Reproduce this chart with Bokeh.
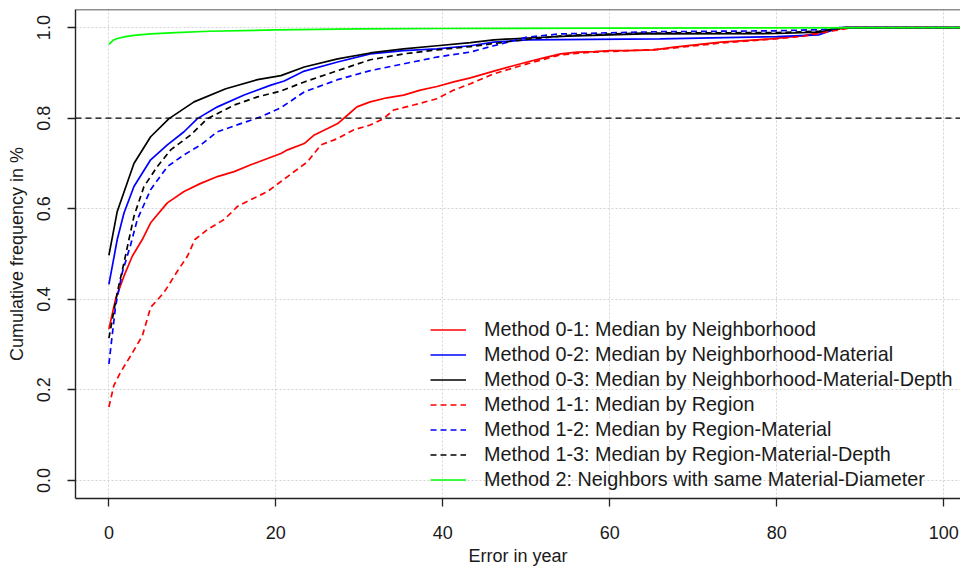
from bokeh.plotting import figure
from bokeh.models import Range1d, Legend, LegendItem, Span, FixedTicker
from bokeh.embed import file_html
from bokeh.resources import INLINE

FONT = "Liberation Sans"

# ---------------- data ----------------
x_ticks = [0, 20, 40, 60, 80, 100]
y_ticks = [0.0, 0.2, 0.4, 0.6, 0.8, 1.0]
y_tick_labels = ["0.0", "0.2", "0.4", "0.6", "0.8", "1.0"]
threshold = 0.8

m01_x = [0, 0.8, 1.8, 2.8, 4.0, 5.0, 7.0, 9.0, 11.0, 13.0, 15.0, 17.0, 19.0, 20.6, 21.4, 23.4,
         24.6, 26.2, 27.4, 28.6, 29.7, 31.3, 33.3, 35.3, 37.3, 39.3, 41.3, 43.3, 46.1, 48.1,
         50.1, 52.1, 54.1, 56.1, 58.1, 60.1, 62.1, 65.3, 67.7, 73.3, 79.2, 83.2, 86.8, 88.5, 104]
m01_y = [0.334, 0.400, 0.451, 0.495, 0.532, 0.569, 0.613, 0.638, 0.656, 0.671, 0.682, 0.697,
         0.711, 0.722, 0.730, 0.744, 0.763, 0.777, 0.788, 0.807, 0.825, 0.836, 0.845, 0.851,
         0.862, 0.870, 0.880, 0.889, 0.904, 0.914, 0.924, 0.933, 0.942, 0.946, 0.947, 0.949,
         0.949, 0.951, 0.957, 0.968, 0.975, 0.982, 0.995, 1.0, 1.0]

m02_x = [0, 0.6, 1.0, 1.8, 3.0, 5.0, 7.0, 9.0, 10.6, 13.0, 16.2, 19.4, 21.0, 23.4, 27.4, 31.3,
         35.3, 39.3, 43.3, 46.1, 50.1, 58.0, 66.0, 80.0, 85.0, 87.5, 104]
m02_y = [0.433, 0.492, 0.532, 0.590, 0.649, 0.708, 0.741, 0.770, 0.799, 0.825, 0.851, 0.873,
         0.882, 0.904, 0.924, 0.942, 0.949, 0.953, 0.960, 0.968, 0.973, 0.974, 0.975, 0.980,
         0.984, 1.0, 1.0]

m03_x = [0, 1.0, 3.0, 5.0, 7.2, 10.2, 14.0, 17.8, 20.6, 23.4, 27.4, 31.3, 35.3, 39.3, 43.3,
         46.1, 50.1, 55.0, 64.0, 80.0, 85.0, 88.0, 104]
m03_y = [0.497, 0.594, 0.700, 0.759, 0.799, 0.836, 0.865, 0.885, 0.894, 0.913, 0.931, 0.944,
         0.953, 0.960, 0.967, 0.973, 0.977, 0.981, 0.986, 0.987, 0.990, 1.0, 1.0]

m11_x = [0, 0.6, 1.4, 2.6, 4.0, 5.0, 6.6, 8.2, 9.4, 10.3, 11.8, 13.8, 15.4, 17.0, 19.0, 20.6,
         21.4, 23.8, 25.4, 27.4, 29.3, 31.3, 32.9, 34.1, 36.5, 39.3, 41.3, 43.3, 46.1, 50.1,
         54.1, 58.1, 62.1, 66.1, 73.3, 79.2, 83.2, 86.8, 89.0, 104]
m11_y = [0.162, 0.210, 0.239, 0.275, 0.319, 0.382, 0.415, 0.462, 0.495, 0.532, 0.554, 0.576,
         0.605, 0.620, 0.638, 0.660, 0.671, 0.704, 0.741, 0.755, 0.774, 0.785, 0.799, 0.818,
         0.829, 0.843, 0.862, 0.876, 0.898, 0.920, 0.940, 0.946, 0.949, 0.952, 0.966, 0.974,
         0.981, 0.993, 1.0, 1.0]

m12_x = [0, 0.8, 1.6, 2.6, 3.4, 5.0, 7.0, 9.0, 11.0, 13.0, 15.8, 18.2, 20.6, 23.4, 27.4, 31.3,
         35.3, 39.3, 43.3, 46.1, 50.1, 54.0, 66.0, 80.0, 86.0, 88.0, 104]
m12_y = [0.257, 0.385, 0.459, 0.520, 0.576, 0.642, 0.693, 0.719, 0.741, 0.770, 0.788, 0.803,
         0.823, 0.858, 0.885, 0.905, 0.920, 0.935, 0.946, 0.960, 0.979, 0.986, 0.991, 0.993,
         0.996, 1.0, 1.0]

m13_x = [0, 1.0, 1.8, 2.4, 3.0, 4.2, 5.8, 7.4, 9.8, 11.8, 15.0, 17.8, 20.6, 23.4, 27.4, 31.3,
         35.3, 39.3, 43.3, 47.0, 50.1, 55.0, 64.0, 80.0, 85.0, 88.0, 104]
m13_y = [0.314, 0.415, 0.480, 0.532, 0.583, 0.649, 0.693, 0.730, 0.763, 0.799, 0.829, 0.847,
         0.860, 0.880, 0.905, 0.929, 0.942, 0.951, 0.958, 0.967, 0.974, 0.983, 0.988, 0.989,
         0.992, 1.0, 1.0]

m2_x = [0, 0.5, 1.0, 2.0, 3.0, 5.0, 8.0, 12.0, 20.0, 30.0, 40.0, 60.0, 100.0, 104]
m2_y = [0.963, 0.972, 0.976, 0.980, 0.983, 0.986, 0.989, 0.992, 0.995, 0.997, 0.998, 0.999,
        1.0, 1.0]

series = [
    ("Method 0-1: Median by Neighborhood", m01_x, m01_y, "#FF0000", "solid"),
    ("Method 0-2: Median by Neighborhood-Material", m02_x, m02_y, "#0000FF", "solid"),
    ("Method 0-3: Median by Neighborhood-Material-Depth", m03_x, m03_y, "#000000", "solid"),
    ("Method 1-1: Median by Region", m11_x, m11_y, "#FF0000", "6 4"),
    ("Method 1-2: Median by Region-Material", m12_x, m12_y, "#0000FF", "6 4"),
    ("Method 1-3: Median by Region-Material-Depth", m13_x, m13_y, "#000000", "6 4"),
    ("Method 2: Neighbors with same Material-Diameter", m2_x, m2_y, "#00FF00", "solid"),
]

# ---------------- figure ----------------
x_range = Range1d(-4, 102)
y_range = Range1d(-0.04, 1.04)
p = figure(width=960, height=568, output_backend="svg", toolbar_location=None,
           x_range=x_range, y_range=y_range,
           min_border_left=75, min_border_right=0, min_border_top=9, min_border_bottom=68,
           background_fill_color="white", border_fill_color="white")

# box: left + bottom via axis lines, top via a span (right side is cut off in the reference)
p.outline_line_color = None
p.add_layout(Span(location=y_range.end, dimension="width", line_color="#222222",
                  line_width=1.4))

# grid
p.xgrid.ticker = FixedTicker(ticks=x_ticks)
p.ygrid.ticker = FixedTicker(ticks=y_ticks)
for g in (p.xgrid, p.ygrid):
    g.grid_line_color = "#d3d3d3"
    g.grid_line_dash = "2 2"
    g.grid_line_width = 1

# axes
p.xaxis.ticker = FixedTicker(ticks=x_ticks)
p.yaxis.ticker = FixedTicker(ticks=y_ticks)
p.yaxis.major_label_overrides = {t: l for t, l in zip(y_ticks, y_tick_labels)}
p.yaxis.major_label_orientation = "parallel"
p.xaxis.axis_label = "Error in year"
p.yaxis.axis_label = "Cumulative frequency in %"
for ax in (p.xaxis, p.yaxis):
    ax.axis_line_color = "#222222"
    ax.axis_line_width = 1.4
    ax.major_tick_line_color = "#222222"
    ax.major_tick_line_width = 1.3
    ax.major_tick_out = 8
    ax.major_tick_in = 0
    ax.minor_tick_line_color = None
    ax.major_label_text_font = FONT
    ax.major_label_text_font_size = "18px"
    ax.major_label_text_color = "#1a1a1a"
    ax.axis_label_text_font = FONT
    ax.axis_label_text_font_size = "18px"
    ax.axis_label_text_font_style = "normal"
    ax.axis_label_text_color = "#1a1a1a"
p.xaxis.major_label_standoff = 19
p.yaxis.major_label_standoff = 17
p.xaxis.axis_label_standoff = 4
p.yaxis.axis_label_standoff = 8

# threshold line
p.add_layout(Span(location=threshold, dimension="width", line_color="black",
                  line_dash="6 4", line_width=1.3))

items = []
for label, xs, ys, color, dash in series:
    r = p.line(xs, ys, line_color=color, line_width=1.7, line_dash=dash)
    items.append(LegendItem(label=label, renderers=[r]))

legend = Legend(items=items, location=(355, 6), border_line_color=None,
                background_fill_alpha=0, padding=0, margin=0, spacing=0,
                glyph_width=36, glyph_height=25, label_height=25, label_standoff=18,
                label_text_font=FONT, label_text_font_size="19.8px",
                label_text_color="#1a1a1a", label_text_baseline="middle")
p.add_layout(legend, "center")

open("out.html", "w").write(file_html(p, INLINE))
